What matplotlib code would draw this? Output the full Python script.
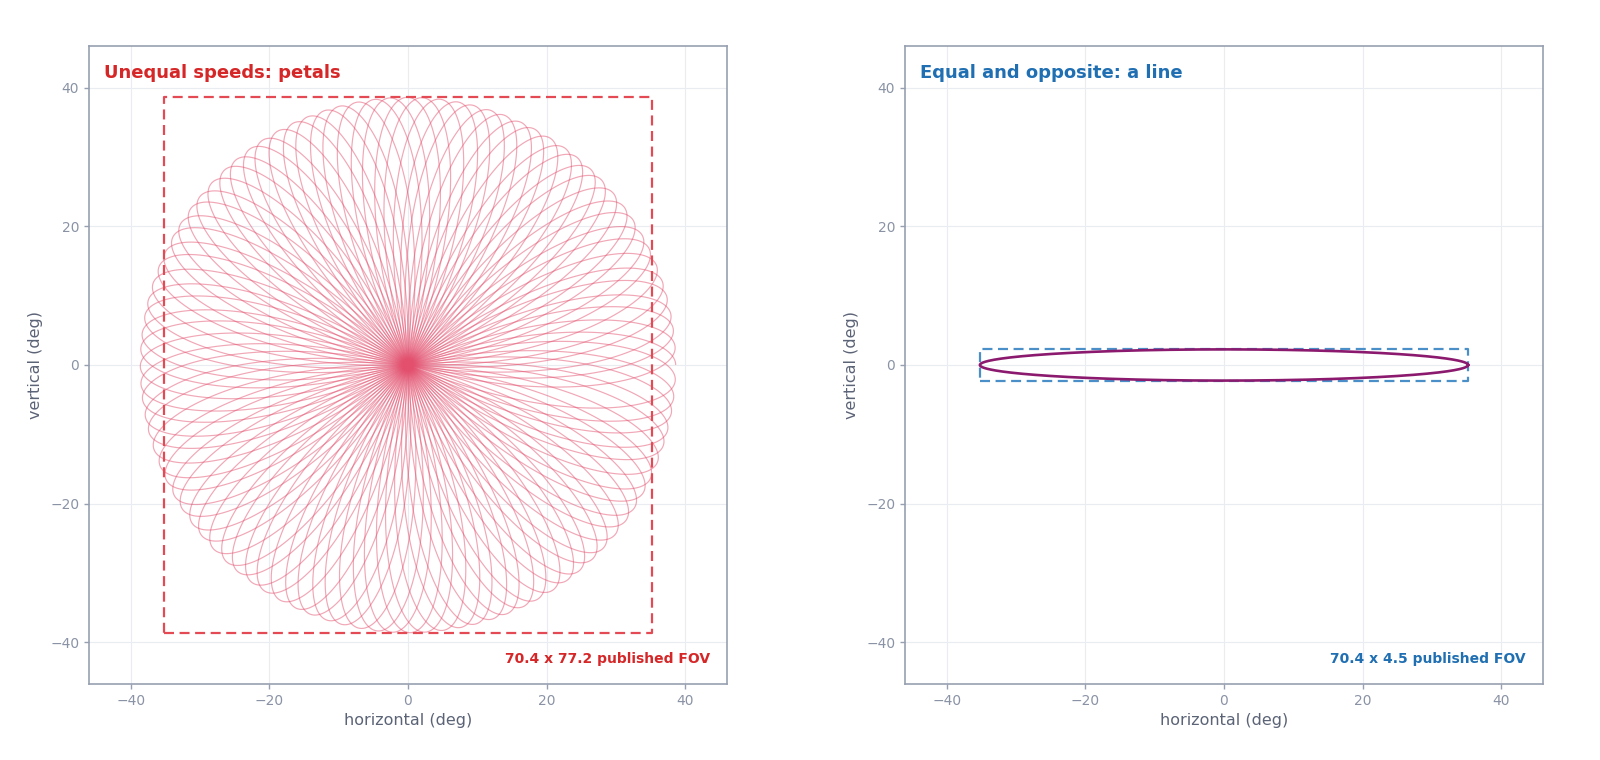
import numpy as np
import matplotlib
matplotlib.use("Agg")
import matplotlib.pyplot as plt
from matplotlib.collections import LineCollection

# ---- data ----
panel_titles = ["Unequal speeds: petals", "Equal and opposite: a line"]
prism_a_deg = [19.3, 18.725]      # deflection of prism A (deg)
prism_b_deg = [19.3, 16.475]      # deflection of prism B (deg)
speed_a = [1.0, 1.0]              # relative rotation speed of prism A
speed_b = [-0.6393, -1.0]         # relative rotation speed of prism B
petal_count = [100, 1]            # number of petal tips traced / turns
fov_w = [70.4, 70.4]              # published FOV width (deg)
fov_h = [77.2, 4.5]               # published FOV height (deg)
fov_labels = ["70.4 x 77.2 published FOV", "70.4 x 4.5 published FOV"]
ticks = [-40, -20, 0, 20, 40]

title_colors = ["#d62728", "#1f6fb2"]
box_colors = ["#e34a53", "#4a8fc8"]
curve_colors = ["#e3506e", "#8b1a6e"]

fig = plt.figure(figsize=(16, 7.6), dpi=100)
positions = [[0.055, 0.1, 0.4, 0.8395], [0.565, 0.1, 0.4, 0.8395]]

for i in range(2):
    ax = fig.add_axes(positions[i])
    wa, wb = speed_a[i], speed_b[i]
    if i == 0:
        T = 2 * np.pi * (petal_count[i] - 0.5) / (wa - wb)
        t = np.linspace(0, T, 80000)
        z = prism_a_deg[i] * np.exp(1j * wa * t) + prism_b_deg[i] * np.exp(1j * wb * t)
        # split the trace petal by petal so overlapping strokes build up colour
        idx = np.floor((wa - wb) * t / (2 * np.pi) + 0.5).astype(int)
        segs = []
        for k in np.unique(idx):
            sel = np.where(idx == k)[0]
            lo, hi = sel[0], min(sel[-1] + 2, len(t))
            segs.append(np.column_stack([z.real[lo:hi], z.imag[lo:hi]]))
        lc = LineCollection(segs, colors=curve_colors[i], linewidths=0.85, alpha=0.5, zorder=2)
        ax.add_collection(lc)
    else:
        t = np.linspace(0, 2 * np.pi * petal_count[i], 3000)
        z = prism_a_deg[i] * np.exp(1j * wa * t) + prism_b_deg[i] * np.exp(1j * wb * t)
        ax.plot(z.real, z.imag, color=curve_colors[i], lw=1.9, zorder=3)
    hw, hh = fov_w[i] / 2, fov_h[i] / 2
    ax.plot([-hw, hw, hw, -hw, -hw], [-hh, -hh, hh, hh, -hh],
            color=box_colors[i], lw=1.6, linestyle=(0, (4.5, 2.5)), zorder=2.5)

    ax.set_xlim(-46, 46)
    ax.set_ylim(-46, 46)
    ax.set_aspect("equal", adjustable="box")
    ax.set_xticks(ticks)
    ax.set_yticks(ticks)
    ax.grid(True, color="#e9ecf1", lw=0.8, zorder=0)
    ax.set_axisbelow(True)
    for s in ax.spines.values():
        s.set_color("#97a0b0")
        s.set_linewidth(1.2)
    ax.tick_params(colors="#97a0b0", labelcolor="#8a93a5", labelsize=10, length=3.5, width=1)
    ax.set_xlabel("horizontal (deg)", color="#5b6376", fontsize=11.5, labelpad=4)
    ax.set_ylabel("vertical (deg)", color="#5b6376", fontsize=11.5, labelpad=5)
    ax.text(0.024, 0.958, panel_titles[i], transform=ax.transAxes, color=title_colors[i],
            fontsize=13, fontweight="bold", ha="left", va="center")
    ax.text(0.973, 0.039, fov_labels[i], transform=ax.transAxes, color=title_colors[i],
            fontsize=10, fontweight="bold", ha="right", va="center")

fig.savefig("out.png", dpi=100)
